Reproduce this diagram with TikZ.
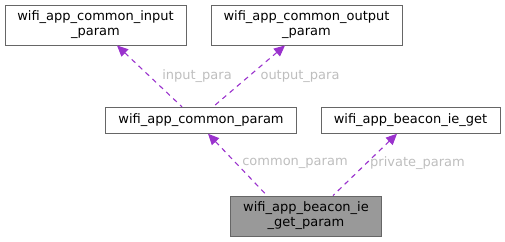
\documentclass[tikz,border=0pt]{standalone}
\usepackage{fontspec}
\setmainfont{DejaVu Sans}
\usetikzlibrary{arrows.meta}
\definecolor{edgecol}{HTML}{9A32CD}
\definecolor{boxline}{HTML}{666666}
\definecolor{lblcol}{HTML}{BEBEBE}
\tikzset{
  cls/.style={draw=boxline,line width=0.9pt,inner sep=0pt,align=center,font=\fontsize{13}{15}\selectfont},
  lbl/.style={text=lblcol,inner sep=0pt,font=\fontsize{13}{15}\selectfont},
  uses/.style={draw=edgecol,line width=1.1pt,dash pattern=on 5pt off 4.5pt,{Triangle[length=11pt,width=10pt]}-}
}
\begin{document}
\begin{tikzpicture}[x=1pt,y=-1pt]
			\useasboundingbox (0,0) rectangle (505,241);
			\node[cls,minimum width=181pt,minimum height=40pt] (input) at (95.5,25) {wifi\_app\_common\_input\\\_param};
			\node[cls,minimum width=191pt,minimum height=40pt] (output) at (306.5,25) {wifi\_app\_common\_output\\\_param};
			\node[cls,minimum width=191pt,minimum height=26pt] (common) at (201,120.3) {wifi\_app\_common\_param};
			\node[cls,minimum width=179pt,minimum height=26pt] (ieget) at (410.5,120.3) {wifi\_app\_beacon\_ie\_get};
			\node[cls,fill=black!40,minimum width=151pt,minimum height=40pt] (param) at (306,216) {wifi\_app\_beacon\_ie\\\_get\_param};
			\node[lbl] (inlbl) at (197,76) {input\_para};
			\node[lbl] (outlbl) at (300,76) {output\_para};
			\node[lbl] (comlbl) at (295,163.3) {common\_param};
			\node[lbl] (privlbl) at (417.5,163.3) {private\_param};
			\draw[uses] ([xshift=21.5pt]input.south) -- ([xshift=-19pt]common.north);
			\draw[uses] ([xshift=-21.5pt]output.south) -- ([xshift=12pt]common.north);
			\draw[uses] ([xshift=7pt]common.south) -- ([xshift=-39pt]param.north);
			\draw[uses] ([xshift=-13.5pt]ieget.south) -- ([xshift=27pt]param.north);
		\end{tikzpicture}
\end{document}
